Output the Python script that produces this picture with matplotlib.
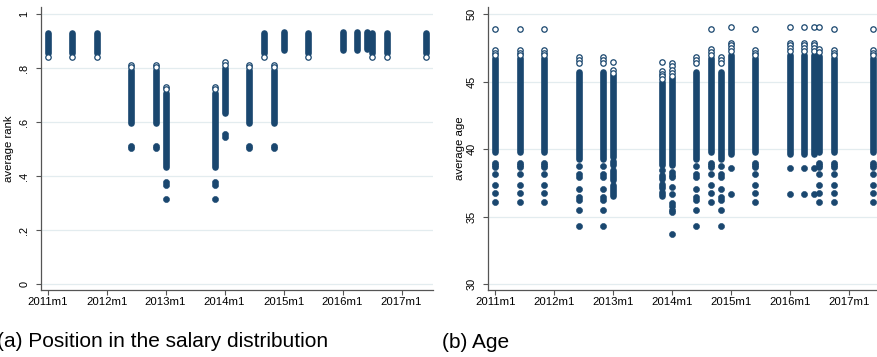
import matplotlib.pyplot as plt

plt.rcParams['font.family'] = ['Liberation Sans', 'DejaVu Sans']

navy = '#1a476f'
gridc = '#e3ecef'

# months since 2011m1 where observations are present
months = [0, 5, 10, 17, 22, 24, 34, 36, 41, 44, 46, 48, 53, 60, 63, 65, 66, 69, 77]
xtick_months = [0, 12, 24, 36, 48, 60, 72]
xtick_labels = ['2011m1', '2012m1', '2013m1', '2014m1', '2015m1', '2016m1', '2017m1']

# (a) average rank: dense stretches, isolated filled dots, hollow dots
rank_segments = [
    [(0.856, 0.930)], [(0.856, 0.930)], [(0.856, 0.930)],
    [(0.597, 0.793)], [(0.597, 0.793)], [(0.436, 0.709)],
    [(0.436, 0.709)], [(0.633, 0.802)], [(0.597, 0.793)],
    [(0.858, 0.930)], [(0.597, 0.793)], [(0.868, 0.936)],
    [(0.856, 0.930)], [(0.868, 0.936)], [(0.868, 0.936)],
    [(0.870, 0.936)], [(0.856, 0.930)], [(0.856, 0.930)],
    [(0.856, 0.930)],
]
rank_points = [
    [], [], [],
    [0.505, 0.513], [0.505, 0.513], [0.368, 0.378, 0.316],
    [0.368, 0.378, 0.316], [0.545, 0.555], [0.505, 0.513],
    [], [0.505, 0.513], [],
    [], [], [],
    [], [], [],
    [],
]
rank_hollow = [
    [0.843], [0.843], [0.843],
    [0.812, 0.803], [0.812, 0.803], [0.732, 0.722],
    [0.732, 0.722], [0.822, 0.812], [0.812, 0.803],
    [0.843], [0.812, 0.803], [],
    [0.843], [], [],
    [], [0.843], [0.843],
    [0.843],
]

# (b) average age
age_segments = [
    [(39.75, 46.73)], [(39.75, 46.73)], [(39.75, 46.73)],
    [(39.3, 45.73)], [(39.3, 45.73)],
    [(39.45, 45.49), (38.85, 39.1), (37.7, 38.45), (36.5, 37.35)],
    [(38.85, 45.0), (37.75, 38.05), (37.1, 37.4), (36.55, 36.8)],
    [(38.85, 45.3)], [(39.3, 45.73)],
    [(39.75, 46.73)], [(39.3, 45.73)], [(39.6, 46.97)],
    [(39.75, 46.73)], [(39.6, 46.97)], [(39.6, 46.97)],
    [(39.6, 46.97)], [(39.75, 46.9)], [(39.75, 46.73)],
    [(39.75, 46.73)],
]
age_points = [
    [38.95, 38.8, 38.65, 38.18, 37.36, 36.74, 36.1],
    [38.95, 38.8, 38.65, 38.18, 37.36, 36.74, 36.1],
    [38.95, 38.8, 38.65, 38.18, 37.36, 36.74, 36.1],
    [38.72, 38.18, 37.9, 37.06, 36.45, 36.2, 35.5, 34.26],
    [38.72, 38.18, 37.9, 37.06, 36.45, 36.2, 35.5, 34.26],
    [],
    [38.42],
    [38.3, 38.1, 37.9, 37.2, 36.7, 36.0, 35.8, 35.5, 35.3, 33.72],
    [38.72, 38.18, 37.9, 37.06, 36.45, 36.2, 35.5, 34.26],
    [38.95, 38.8, 38.65, 38.18, 37.36, 36.74, 36.1],
    [38.72, 38.18, 37.9, 37.06, 36.45, 36.2, 35.5, 34.26],
    [38.62, 36.7],
    [38.95, 38.8, 38.65, 38.18, 37.36, 36.74, 36.1],
    [38.62, 36.7],
    [38.62, 36.7],
    [38.62, 36.7],
    [38.95, 38.8, 38.65, 38.18, 37.36, 36.74, 36.1],
    [38.95, 38.8, 38.65, 38.18, 37.36, 36.74, 36.1],
    [38.95, 38.8, 38.65, 38.18, 37.36, 36.74, 36.1],
]
age_hollow = [
    [48.88, 47.35, 47.15, 46.95], [48.88, 47.35, 47.15, 46.95], [48.88, 47.35, 47.15, 46.95],
    [46.8, 46.6, 46.4], [46.8, 46.6, 46.4], [46.48, 45.86, 45.66],
    [46.48, 45.8, 45.6, 45.4, 45.2], [46.4, 46.2, 45.85, 45.65, 45.45], [46.8, 46.6, 46.4],
    [48.91, 47.4, 47.2, 47.0], [46.8, 46.6, 46.4], [49.08, 47.9, 47.7, 47.5, 47.3],
    [48.88, 47.35, 47.15, 46.95], [49.08, 47.9, 47.7, 47.5, 47.3], [49.08, 47.9, 47.7, 47.5, 47.3],
    [49.08, 47.9, 47.7, 47.5, 47.3], [49.08, 47.4, 47.2], [48.88, 47.35, 47.15, 46.95],
    [48.88, 47.35, 47.15, 46.95],
]


def draw_panel(ax, segments, points, hollow, yticks, ylabels, ylim, ylabel):
    for m, segs, pts, hol in zip(months, segments, points, hollow):
        for lo, hi in segs:
            ax.plot([m, m], [lo, hi], color=navy, lw=4.8, solid_capstyle='round', zorder=3)
        ax.plot([m] * len(pts), pts, 'o', ms=4.4, mfc=navy, mec=navy, mew=0.4, zorder=4)
        ax.plot([m] * len(hol), hol, 'o', ms=3.9, mfc='white', mec=navy, mew=0.9, zorder=5)
    ax.set_xlim(-1.4, 78.4)
    ax.set_ylim(*ylim)
    ax.set_xticks(xtick_months)
    ax.set_xticklabels(xtick_labels)
    ax.set_yticks(yticks)
    ax.set_yticklabels(ylabels, rotation=90, va='center')
    for y in yticks:
        ax.axhline(y, color=gridc, lw=0.9, zorder=1)
    for s in ['top', 'right']:
        ax.spines[s].set_visible(False)
    for s in ['left', 'bottom']:
        ax.spines[s].set_color('#555555')
        ax.spines[s].set_linewidth(0.9)
    ax.tick_params(axis='both', length=3.3, width=0.8, color='#555555')
    ax.tick_params(axis='x', labelsize=8.2, pad=1.5)
    ax.tick_params(axis='y', labelsize=7.9, pad=5)
    ax.set_ylabel(ylabel, fontsize=8.2)


fig = plt.figure(figsize=(8.77, 3.57), dpi=100)
ax1 = fig.add_axes([0.0464, 0.1877, 0.4473, 0.7927])
ax2 = fig.add_axes([0.5568, 0.1877, 0.4467, 0.7927])

draw_panel(ax1, rank_segments, rank_points, rank_hollow,
           [0, 0.2, 0.4, 0.6, 0.8, 1], ['0', '.2', '.4', '.6', '.8', '1'],
           (-0.021, 1.027), 'average rank')
draw_panel(ax2, age_segments, age_points, age_hollow,
           [30, 35, 40, 45, 50], ['30', '35', '40', '45', '50'],
           (29.55, 50.54), 'average age')
ax1.yaxis.set_label_coords(-0.068, 0.5)
ax2.yaxis.set_label_coords(-0.059, 0.5)

fig.text(-3 / 877, 0.029, '(a) Position in the salary distribution', fontsize=15, va='baseline')
fig.text(441.7 / 877, 0.025, '(b) Age', fontsize=15, va='baseline')

fig.savefig('out.png', dpi=100)
